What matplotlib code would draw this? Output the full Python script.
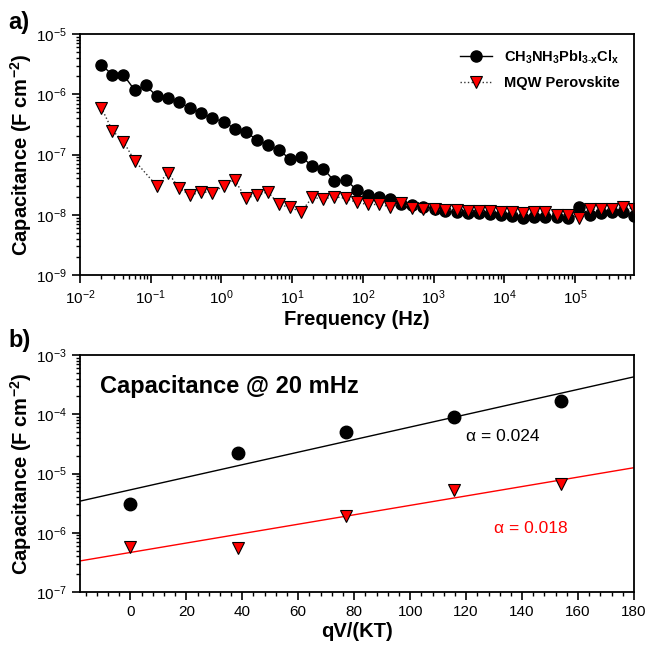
import numpy as np
import matplotlib
matplotlib.use("Agg")
import matplotlib.pyplot as plt
from matplotlib.ticker import LogLocator, MultipleLocator, NullFormatter

plt.rcParams['font.family'] = ['Liberation Sans', 'DejaVu Sans']
plt.rcParams['mathtext.fontset'] = 'custom'
plt.rcParams['mathtext.rm'] = 'Liberation Sans'
plt.rcParams['mathtext.it'] = 'Liberation Sans:italic'
plt.rcParams['mathtext.bf'] = 'Liberation Sans:bold'

# panel a) frequency sweep
freq = [0.020, 0.0287, 0.0412, 0.0592, 0.0849, 0.122, 0.175, 0.251, 0.361, 0.518,
        0.743, 1.07, 1.53, 2.20, 3.16, 4.53, 6.50, 9.33, 13.4, 19.2,
        27.6, 39.6, 56.9, 81.7, 117, 168, 242, 347, 498, 714,
        1030, 1470, 2110, 3030, 4360, 6250, 8970, 12900, 18500, 26500,
        38100, 54700, 78500, 113000, 162000, 232000, 333000, 479000, 687000]

cap_ref = [3.1e-6, 2.1e-6, 2.1e-6, 1.17e-6, 1.4e-6, 9.3e-7, 8.8e-7, 7.4e-7, 5.9e-7, 4.9e-7,
           4.0e-7, 3.5e-7, 2.7e-7, 2.35e-7, 1.77e-7, 1.45e-7, 1.17e-7, 8.5e-8, 9.1e-8, 6.5e-8,
           5.8e-8, 3.6e-8, 3.8e-8, 2.6e-8, 2.1e-8, 1.95e-8, 1.82e-8, 1.52e-8, 1.45e-8, 1.35e-8,
           1.25e-8, 1.15e-8, 1.1e-8, 1.08e-8, 1.06e-8, 1.03e-8, 9.8e-9, 9.6e-9, 8.7e-9, 9.3e-9,
           9.3e-9, 9.3e-9, 9.0e-9, 1.35e-8, 1.0e-8, 1.05e-8, 1.12e-8, 1.12e-8, 9.6e-9]

cap_mqw = [6.0e-7, 2.5e-7, 1.63e-7, 7.9e-8, np.nan, 3.0e-8, 5.0e-8, 2.8e-8, 2.1e-8, 2.4e-8,
           2.33e-8, 3.0e-8, 3.8e-8, 1.9e-8, 2.1e-8, 2.4e-8, 1.48e-8, 1.32e-8, 1.12e-8, 1.94e-8,
           1.82e-8, 2.0e-8, 1.87e-8, 1.6e-8, 1.48e-8, 1.48e-8, 1.36e-8, 1.55e-8, 1.31e-8, 1.26e-8,
           1.24e-8, 1.2e-8, 1.18e-8, 1.15e-8, 1.15e-8, 1.15e-8, 1.12e-8, 1.1e-8, 1.06e-8, 1.12e-8,
           1.12e-8, 1.0e-8, 9.8e-9, 9.0e-9, 1.23e-8, 1.23e-8, 1.25e-8, 1.36e-8, 1.23e-8]

# panel b) capacitance at 20 mHz vs bias
qv_kt = [0, 38.5, 77, 115.5, 154]
c20_ref = [3.05e-6, 2.24e-5, 5.07e-5, 9.1e-5, 1.67e-4]
c20_mqw = [5.7e-7, 5.45e-7, 1.92e-6, 5.27e-6, 6.56e-6]
fit_c0 = [5.3e-6, 4.65e-7]
fit_alpha = [0.0244, 0.0183]

fig = plt.figure(figsize=(6.49, 6.5), dpi=100)
W, H = 649.0, 650.0
ax1 = fig.add_axes([80 / W, 1 - 275 / H, 554 / W, 241 / H])
ax2 = fig.add_axes([80 / W, 1 - 592 / H, 554 / W, 237 / H])

freq = np.array(freq)
cap_mqw = np.array(cap_mqw)
ok = np.isfinite(cap_mqw)

ax1.plot(freq, cap_ref, '-', color='black', lw=1.0, marker='o', ms=8,
         mfc='black', mec='black', label=r'$\mathbf{CH_3NH_3PbI_{3\text{-}x}Cl_x}$')
ax1.plot(freq[ok], cap_mqw[ok], ':', color='#333333', lw=1.0, marker='v', ms=8,
         mfc='red', mec='black', mew=0.8, label='MQW Perovskite')
ax1.set_xscale('log')
ax1.set_yscale('log')
ax1.set_xlim(0.01, 6.8e5)
ax1.set_ylim(1e-9, 1e-5)
ax1.set_xlabel('Frequency (Hz)', fontsize=14.5, fontweight='bold', labelpad=2)
ax1.set_ylabel(r'Capacitance (F cm$^{\mathbf{-2}}$)', fontsize=14.5, fontweight='bold')
leg = ax1.legend(loc='upper right', frameon=False, fontsize=10.5, handlelength=2.2,
                 borderaxespad=0.6, labelspacing=0.7)
for t in leg.get_texts():
    t.set_fontweight('bold')

xx = np.array([-18, 180])
colors = ['black', 'red']
for c0, a, col in zip(fit_c0, fit_alpha, colors):
    ax2.plot(xx, c0 * np.exp(a * xx), color=col, lw=1.0)
ax2.plot(qv_kt, c20_ref, 'o', ms=9, color='black')
ax2.plot(qv_kt, c20_mqw, 'v', ms=9, mfc='red', mec='black', mew=0.8)
ax2.set_yscale('log')
ax2.set_xlim(-18, 180)
ax2.set_ylim(1e-7, 1e-3)
ax2.xaxis.set_major_locator(MultipleLocator(20))
ax2.xaxis.set_minor_locator(MultipleLocator(4))
ax2.set_xlabel('qV/(KT)', fontsize=14.5, fontweight='bold', labelpad=2)
ax2.set_ylabel(r'Capacitance (F cm$^{\mathbf{-2}}$)', fontsize=14.5, fontweight='bold')
ax2.text(-11, 2.9e-4, 'Capacitance @ 20 mHz', fontsize=17, fontweight='bold', va='center')
ax2.text(120, 4.2e-5, '\u03b1 = 0.024', fontsize=12.5, color='black', va='center')
ax2.text(130, 1.2e-6, '\u03b1 = 0.018', fontsize=12.5, color='red', va='center')

for ax in (ax1, ax2):
    for s in ax.spines.values():
        s.set_linewidth(1.3)
    ax.yaxis.set_label_coords(-0.083, 0.5)
    ax.yaxis.set_major_locator(LogLocator(base=10, numticks=20))
    ax.yaxis.set_minor_locator(LogLocator(base=10, subs=np.arange(2, 10), numticks=20))
    ax.yaxis.set_minor_formatter(NullFormatter())
    ax.tick_params(which='both', direction='out', top=False, right=False, labelsize=11)
    ax.tick_params(which='major', length=6, width=1.2)
    ax.tick_params(which='minor', length=3, width=1.0)
ax1.xaxis.set_major_locator(LogLocator(base=10, numticks=20))
ax1.xaxis.set_minor_locator(LogLocator(base=10, subs=np.arange(2, 10), numticks=20))
ax1.xaxis.set_minor_formatter(NullFormatter())

fig.text(8 / W, 1 - 22 / H, 'a)', fontsize=17, fontweight='bold', va='center')
fig.text(8 / W, 1 - 341 / H, 'b)', fontsize=17, fontweight='bold', va='center')

fig.savefig('out.png', dpi=100)
